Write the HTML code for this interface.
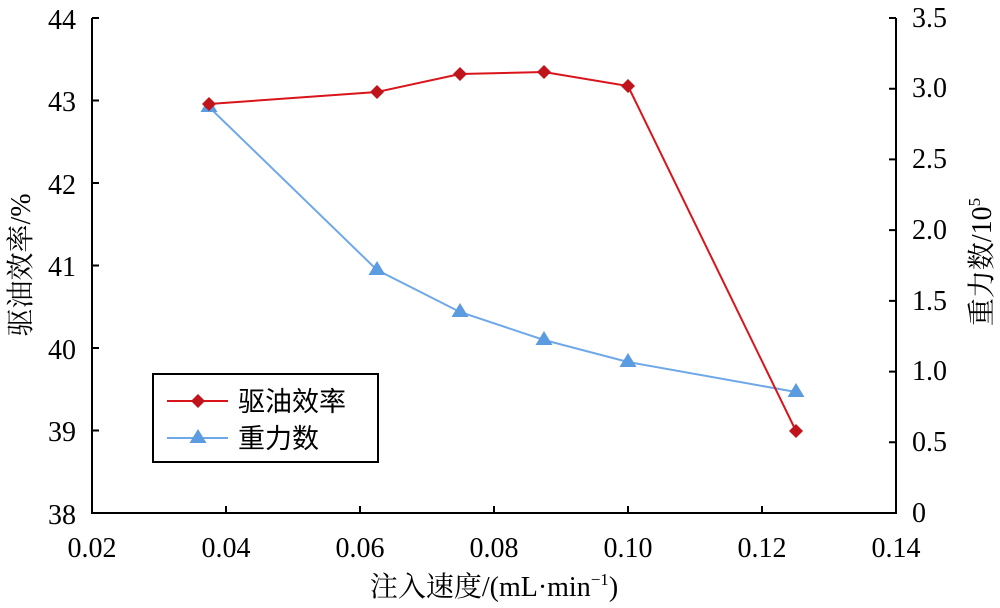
<!DOCTYPE html>
<html><head><meta charset="utf-8"><style>body{margin:0;background:#fff}svg{display:block}</style></head><body>
<svg width="1000" height="608" xmlns="http://www.w3.org/2000/svg" font-family="'Liberation Serif','Noto Serif CJK SC',serif">
<g stroke="#000" stroke-width="2" fill="none">
<path d="M92,18 V513 H896 V18"/>
<path d="M92,18h7M92,100.5h7M92,183h7M92,265.5h7M92,348h7M92,430.5h7"/>
<path d="M896,18h-7M896,88.7h-7M896,159.4h-7M896,230.1h-7M896,300.9h-7M896,371.6h-7M896,442.3h-7"/>
<path d="M226,513v-7M360,513v-7M494,513v-7M628,513v-7M762,513v-7"/>
</g>
<g font-size="28" fill="#000" text-anchor="end">
<text x="76" y="29">44</text><text x="76" y="111">43</text><text x="76" y="194">42</text><text x="76" y="276">41</text><text x="76" y="359">40</text><text x="76" y="441">39</text><text x="76" y="524">38</text>
</g>
<g font-size="28" fill="#000">
<text x="912" y="27">3.5</text><text x="912" y="97">3.0</text><text x="912" y="168">2.5</text><text x="912" y="239">2.0</text><text x="912" y="310">1.5</text><text x="912" y="380">1.0</text><text x="912" y="451">0.5</text><text x="912" y="522">0</text>
</g>
<g font-size="28" fill="#000" text-anchor="middle">
<text x="92" y="557">0.02</text><text x="226" y="557">0.04</text><text x="360" y="557">0.06</text><text x="494" y="557">0.08</text><text x="628" y="557">0.10</text><text x="762" y="557">0.12</text><text x="896" y="557">0.14</text>
<text x="494" y="596">注入速度/(mL·min<tspan font-size="17" dy="-11">−1</tspan><tspan dy="11">)</tspan></text>
<text transform="translate(30,265) rotate(-90)">驱油效率/%</text>
<text transform="translate(991,262) rotate(-90)">重力数/10<tspan font-size="17" dy="-11">5</tspan></text>
</g>
<polyline fill="none" stroke="#6fa8e8" stroke-width="2" points="209,107 377,270 460,312 544,340 628,362 796,392"/>
<g fill="#5b9be0">
<path d="M209,98l8.5,14h-17z"/><path d="M377,261l8.5,14h-17z"/><path d="M460,303l8.5,14h-17z"/><path d="M544,331l8.5,14h-17z"/><path d="M628,353l8.5,14h-17z"/><path d="M796,383l8.5,14h-17z"/>
</g>
<polyline fill="none" stroke="#d9141b" stroke-width="2" points="209,104 377,92 460,74 544,72 628,86 796,431"/>
<g fill="#c0141c">
<path d="M209,97l7,7-7,7-7-7z"/><path d="M377,85l7,7-7,7-7-7z"/><path d="M460,67l7,7-7,7-7-7z"/><path d="M544,65l7,7-7,7-7-7z"/><path d="M628,79l7,7-7,7-7-7z"/><path d="M796,424l7,7-7,7-7-7z"/>
</g>
<rect x="153" y="374" width="225" height="88" fill="#fff" stroke="#000" stroke-width="2"/>
<line x1="167" y1="401" x2="228" y2="401" stroke="#d9141b" stroke-width="2"/>
<path d="M198,394l7,7-7,7-7-7z" fill="#c0141c"/>
<line x1="167" y1="438" x2="228" y2="438" stroke="#6fa8e8" stroke-width="2"/>
<path d="M198,429l8.5,14h-17z" fill="#5b9be0"/>
<g font-size="27" fill="#000" font-family="'Liberation Sans','Noto Sans CJK SC',sans-serif">
<text x="238" y="411">驱油效率</text><text x="238" y="448">重力数</text>
</g>
</svg>
</body></html>
